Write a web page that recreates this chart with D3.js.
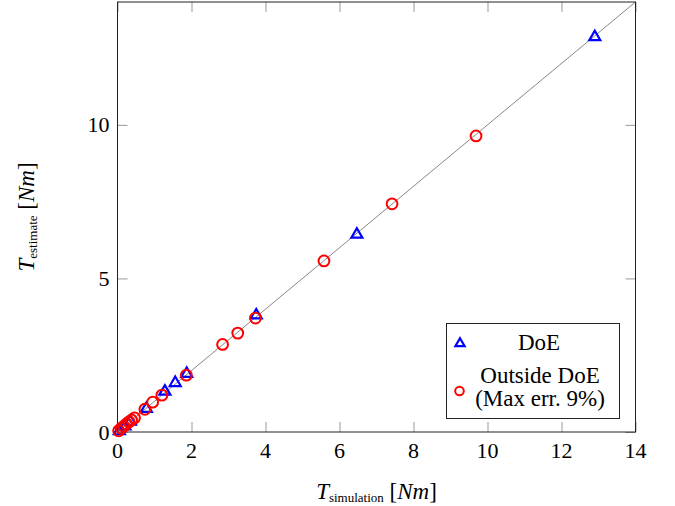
<!DOCTYPE html>
<html>
<head>
<meta charset="utf-8">
<script src="https://cdn.jsdelivr.net/npm/d3@7"></script>
<style>
  body { margin: 0; background: #fff; }
  text { font-family: "Liberation Serif", "DejaVu Serif", serif; }
</style>
</head>
<body>
<svg id="chart"></svg>
<script>
const width = 675;
const height = 506;

const margin = {top: 2, right: 39.5, bottom: 74, left: 117.5};

// DoE points (simulation, estimate)
const doeSim = [0.05, 0.2, 0.35, 0.78, 1.28, 1.56, 1.87, 3.75, 6.47, 12.9];
const doeEst = [0.05, 0.21, 0.36, 0.78, 1.34, 1.62, 1.92, 3.82, 6.45, 12.88];

// Outside DoE points
const outSim = [0.03, 0.1, 0.17, 0.24, 0.31, 0.38, 0.46, 0.74, 0.95, 1.2, 1.86, 2.84, 3.25, 3.73, 5.58, 7.42, 9.69];
const outEst = [0.04, 0.12, 0.19, 0.26, 0.33, 0.39, 0.46, 0.74, 0.97, 1.2, 1.85, 2.85, 3.22, 3.71, 5.57, 7.43, 9.64];

const xTicks = [0, 2, 4, 6, 8, 10, 12, 14];
const yTicks = [0, 5, 10];
const legendLabels = ["DoE", ["Outside DoE", "(Max err. 9%)"]];

const svg = d3.select("#chart")
    .attr("width", width)
    .attr("height", height);

const x = d3.scaleLinear()
    .domain([0, 14])
    .range([margin.left, width - margin.right]);

const y = d3.scaleLinear()
    .domain([0, 14])
    .range([height - margin.bottom, margin.top]);

const tickLen = 10;
const tickColor = "#999";

// ticks on all four sides, pointing inward
svg.append("g")
    .attr("transform", `translate(0,${y(0)})`)
    .call(d3.axisTop(x).tickValues(xTicks).tickSize(tickLen).tickFormat(""))
    .call(g => g.select(".domain").remove())
    .call(g => g.selectAll("line").attr("stroke", tickColor));

svg.append("g")
    .attr("transform", `translate(0,${y(14)})`)
    .call(d3.axisBottom(x).tickValues(xTicks).tickSize(tickLen).tickFormat(""))
    .call(g => g.select(".domain").remove())
    .call(g => g.selectAll("line").attr("stroke", tickColor));

svg.append("g")
    .attr("transform", `translate(${x(0)},0)`)
    .call(d3.axisRight(y).tickValues(yTicks).tickSize(tickLen).tickFormat(""))
    .call(g => g.select(".domain").remove())
    .call(g => g.selectAll("line").attr("stroke", tickColor));

svg.append("g")
    .attr("transform", `translate(${x(14)},0)`)
    .call(d3.axisLeft(y).tickValues(yTicks).tickSize(tickLen).tickFormat(""))
    .call(g => g.select(".domain").remove())
    .call(g => g.selectAll("line").attr("stroke", tickColor));

// tick labels
svg.append("g")
    .selectAll("text")
    .data(xTicks)
    .join("text")
    .attr("x", d => x(d))
    .attr("y", y(0) + 26)
    .attr("text-anchor", "middle")
    .style("font-size", "22px")
    .text(d => d);

svg.append("g")
    .selectAll("text")
    .data(yTicks)
    .join("text")
    .attr("x", x(0) - 8)
    .attr("y", d => y(d) + 7.5)
    .attr("text-anchor", "end")
    .style("font-size", "22px")
    .text(d => d);

// reference line y = x
svg.append("line")
    .attr("x1", x(0)).attr("y1", y(0))
    .attr("x2", x(14)).attr("y2", y(14))
    .attr("stroke", "#888")
    .attr("stroke-width", 1);

// frame
svg.append("rect")
    .attr("x", x(0))
    .attr("y", y(14))
    .attr("width", x(14) - x(0))
    .attr("height", y(0) - y(14))
    .attr("fill", "none")
    .attr("stroke", "#222")
    .attr("stroke-width", 1);

const triangle = (s) => `M0,${-s * 0.6}L${s * 0.58},${s * 0.4}L${-s * 0.58},${s * 0.4}Z`;

// DoE triangles
svg.append("g")
    .selectAll("path")
    .data(doeSim)
    .join("path")
    .attr("transform", (d, i) => `translate(${x(d)},${y(doeEst[i])})`)
    .attr("d", triangle(9.5))
    .attr("fill", "none")
    .attr("stroke", "#0000ff")
    .attr("stroke-width", 2.2);

// Outside DoE circles
svg.append("g")
    .selectAll("circle")
    .data(outSim)
    .join("circle")
    .attr("cx", d => x(d))
    .attr("cy", (d, i) => y(outEst[i]))
    .attr("r", 5.4)
    .attr("fill", "none")
    .attr("stroke", "#ff0000")
    .attr("stroke-width", 2);

// legend
const legend = svg.append("g");

legend.append("rect")
    .attr("x", 446.5)
    .attr("y", 323.5)
    .attr("width", 173)
    .attr("height", 95)
    .attr("fill", "#fff")
    .attr("stroke", "#222")
    .attr("stroke-width", 1);

legend.append("path")
    .attr("transform", "translate(460,343)")
    .attr("d", triangle(8))
    .attr("fill", "none")
    .attr("stroke", "#0000ff")
    .attr("stroke-width", 2.2);

legend.append("text")
    .attr("x", 539)
    .attr("y", 350)
    .attr("text-anchor", "middle")
    .style("font-size", "23px")
    .text(legendLabels[0]);

legend.append("circle")
    .attr("cx", 459.5)
    .attr("cy", 391)
    .attr("r", 4.3)
    .attr("fill", "none")
    .attr("stroke", "#ff0000")
    .attr("stroke-width", 2);

legend.append("text")
    .attr("x", 540)
    .attr("y", 383)
    .attr("text-anchor", "middle")
    .style("font-size", "23px")
    .text(legendLabels[1][0]);

legend.append("text")
    .attr("x", 540)
    .attr("y", 406)
    .attr("text-anchor", "middle")
    .style("font-size", "23px")
    .text(legendLabels[1][1]);

// axis labels
const xLabel = svg.append("text")
    .attr("x", (x(0) + x(14)) / 2)
    .attr("y", 499)
    .attr("text-anchor", "middle")
    .style("font-size", "23px");
xLabel.append("tspan").style("font-style", "italic").text("T");
xLabel.append("tspan").style("font-size", "13px").attr("dy", 3).text("simulation");
xLabel.append("tspan").attr("dy", -3).text(" [");
xLabel.append("tspan").style("font-style", "italic").text("Nm");
xLabel.append("tspan").text("]");

const yLabel = svg.append("text")
    .attr("transform", `translate(34,${(y(0) + y(14)) / 2}) rotate(-90)`)
    .attr("text-anchor", "middle")
    .style("font-size", "23px");
yLabel.append("tspan").style("font-style", "italic").text("T");
yLabel.append("tspan").style("font-size", "13px").attr("dy", 3).text("estimate");
yLabel.append("tspan").attr("dy", -3).text(" [");
yLabel.append("tspan").style("font-style", "italic").text("Nm");
yLabel.append("tspan").text("]");
</script>
</body>
</html>
